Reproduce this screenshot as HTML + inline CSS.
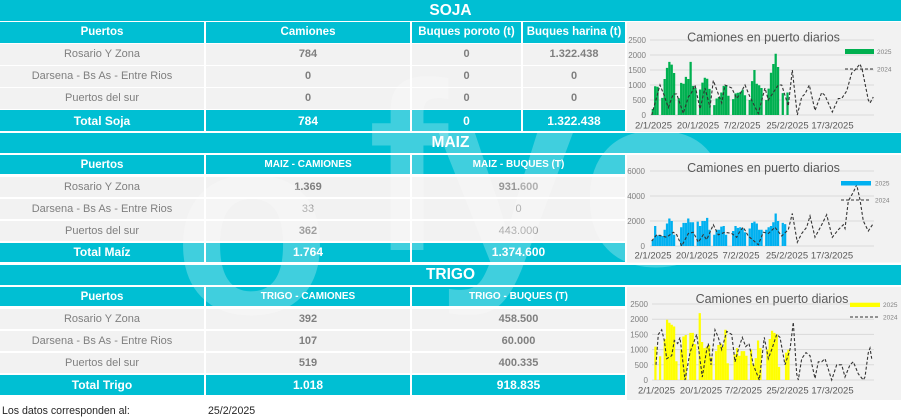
<!DOCTYPE html>
<html><head><meta charset="utf-8">
<style>
body{margin:0;width:901px;height:417px;overflow:hidden;background:#fff;position:relative;font-family:"Liberation Sans",Arial,sans-serif;}
.a{position:absolute;display:flex;align-items:center;justify-content:center;white-space:nowrap;}
.cy{background:#00bfd3;color:#fff;font-weight:bold;}
.h{font-size:11.5px;}
.hu{font-size:10px;}
.t{font-size:12px;}
.g{background:#f2f2f2;color:#7f7f7f;font-size:11px;}
.b{font-weight:bold;}
.l{color:#969696;}
.band{font-size:15.5px;left:0;width:901px;}
svg{position:absolute;left:0;top:0;}
</style></head><body>

<!-- SOJA -->
<div class="a cy band" style="top:0;height:21px;">SOJA</div>
<div class="a cy h" style="left:0;top:22px;width:204px;height:20.7px;">Puertos</div>
<div class="a cy h" style="left:206px;top:22px;width:204px;height:20.7px;">Camiones</div>
<div class="a cy h" style="left:412px;top:22px;width:109px;height:20.7px;">Buques poroto (t)</div>
<div class="a cy h" style="left:523px;top:22px;width:102px;height:20.7px;">Buques harina (t)</div>

<div class="a g" style="left:0;top:44px;width:204px;height:20.7px;">Rosario Y Zona</div>
<div class="a g b" style="left:206px;top:44px;width:204px;height:20.7px;">784</div>
<div class="a g b" style="left:412px;top:44px;width:109px;height:20.7px;">0</div>
<div class="a g b" style="left:523px;top:44px;width:102px;height:20.7px;">1.322.438</div>

<div class="a g" style="left:0;top:66px;width:204px;height:20.7px;">Darsena - Bs As - Entre Rios</div>
<div class="a g b" style="left:206px;top:66px;width:204px;height:20.7px;">0</div>
<div class="a g b" style="left:412px;top:66px;width:109px;height:20.7px;">0</div>
<div class="a g b" style="left:523px;top:66px;width:102px;height:20.7px;">0</div>

<div class="a g" style="left:0;top:88px;width:204px;height:20.7px;">Puertos del sur</div>
<div class="a g b" style="left:206px;top:88px;width:204px;height:20.7px;">0</div>
<div class="a g b" style="left:412px;top:88px;width:109px;height:20.7px;">0</div>
<div class="a g b" style="left:523px;top:88px;width:102px;height:20.7px;">0</div>

<div class="a cy t" style="left:0;top:110px;width:204px;height:21.3px;">Total Soja</div>
<div class="a cy t" style="left:206px;top:110px;width:204px;height:21.3px;">784</div>
<div class="a cy t" style="left:412px;top:110px;width:109px;height:21.3px;">0</div>
<div class="a cy t" style="left:523px;top:110px;width:102px;height:21.3px;">1.322.438</div>

<!-- MAIZ -->
<div class="a cy band" style="top:132.7px;height:20px;">MAIZ</div>
<div class="a cy h" style="left:0;top:155px;width:204px;height:19.3px;">Puertos</div>
<div class="a cy hu" style="left:206px;top:155px;width:204px;height:19.3px;">MAIZ - CAMIONES</div>
<div class="a cy hu" style="left:412px;top:155px;width:213px;height:19.3px;">MAIZ - BUQUES (T)</div>

<div class="a g" style="left:0;top:176.7px;width:204px;height:20px;">Rosario Y Zona</div>
<div class="a g b" style="left:206px;top:176.7px;width:204px;height:20px;">1.369</div>
<div class="a g b l" style="left:412px;top:176.7px;width:213px;height:20px;">931.600</div>

<div class="a g" style="left:0;top:198.7px;width:204px;height:20px;">Darsena - Bs As - Entre Rios</div>
<div class="a g l" style="left:206px;top:198.7px;width:204px;height:20px;">33</div>
<div class="a g l" style="left:412px;top:198.7px;width:213px;height:20px;">0</div>

<div class="a g" style="left:0;top:220.7px;width:204px;height:20px;">Puertos del sur</div>
<div class="a g b" style="left:206px;top:220.7px;width:204px;height:20px;">362</div>
<div class="a g l" style="left:412px;top:220.7px;width:213px;height:20px;">443.000</div>

<div class="a cy t" style="left:0;top:242.7px;width:204px;height:19.5px;">Total Maíz</div>
<div class="a cy t" style="left:206px;top:242.7px;width:204px;height:19.5px;">1.764</div>
<div class="a cy t" style="left:412px;top:242.7px;width:213px;height:19.5px;">1.374.600</div>

<!-- TRIGO -->
<div class="a cy band" style="top:264.5px;height:20.2px;">TRIGO</div>
<div class="a cy h" style="left:0;top:287px;width:204px;height:19.3px;">Puertos</div>
<div class="a cy hu" style="left:206px;top:287px;width:204px;height:19.3px;">TRIGO - CAMIONES</div>
<div class="a cy hu" style="left:412px;top:287px;width:213px;height:19.3px;">TRIGO - BUQUES (T)</div>

<div class="a g" style="left:0;top:308.7px;width:204px;height:20px;">Rosario Y Zona</div>
<div class="a g b" style="left:206px;top:308.7px;width:204px;height:20px;">392</div>
<div class="a g b" style="left:412px;top:308.7px;width:213px;height:20px;">458.500</div>

<div class="a g" style="left:0;top:330.7px;width:204px;height:20px;">Darsena - Bs As - Entre Rios</div>
<div class="a g b" style="left:206px;top:330.7px;width:204px;height:20px;">107</div>
<div class="a g b" style="left:412px;top:330.7px;width:213px;height:20px;">60.000</div>

<div class="a g" style="left:0;top:352.7px;width:204px;height:20px;">Puertos del sur</div>
<div class="a g b" style="left:206px;top:352.7px;width:204px;height:20px;">519</div>
<div class="a g b" style="left:412px;top:352.7px;width:213px;height:20px;">400.335</div>

<div class="a cy t" style="left:0;top:375.3px;width:204px;height:20px;">Total Trigo</div>
<div class="a cy t" style="left:206px;top:375.3px;width:204px;height:20px;">1.018</div>
<div class="a cy t" style="left:412px;top:375.3px;width:213px;height:20px;">918.835</div>

<div style="position:absolute;left:2px;top:405px;font-size:10.6px;color:#262626;">Los datos corresponden al:</div>
<div style="position:absolute;left:208px;top:405px;font-size:10.6px;color:#262626;">25/2/2025</div>

<!-- watermark -->
<svg width="901" height="417" viewBox="0 0 901 417">
<g fill="#fff" fill-opacity="0.25" font-family="Liberation Sans, Arial, sans-serif" font-weight="bold">
<text x="173" y="313" font-size="257">o</text>
<text x="368" y="250" font-size="240">f</text>
<text x="436" y="263" font-size="250">y</text>
<text x="580" y="265" font-size="250">o</text>
</g>
</svg>

<!-- charts -->
<svg width="901" height="417" viewBox="0 0 901 417" font-family="Liberation Sans, Arial, sans-serif">
<!-- Chart 1 SOJA -->
<rect x="627" y="22" width="274" height="110" fill="#f2f2f2"/>
<g stroke="#d9d9d9" stroke-width="1">
<line x1="650" x2="874" y1="40" y2="40"/><line x1="650" x2="874" y1="55" y2="55"/><line x1="650" x2="874" y1="70" y2="70"/><line x1="650" x2="874" y1="85" y2="85"/><line x1="650" x2="874" y1="100" y2="100"/><line x1="650" x2="874" y1="115" y2="115"/>
</g>
<g font-size="8" fill="#7f7f7f" text-anchor="end">
<text x="646" y="43">2500</text><text x="646" y="58">2000</text><text x="646" y="73">1500</text><text x="646" y="88">1000</text><text x="646" y="103">500</text><text x="646" y="118">0</text>
</g>
<path fill="#00b050" d="M651.7 115v-6h2.25v6m.113 0v-28.8h2.25v28.8m.113 0v-28.2h2.25v28.2m.113 0m2.363 0v-17.1h2.25v17.1m.113 0v-36h2.25v36m.113 0v-47.1h2.25v47.1m.113 0v-53.1h2.25v53.1m.113 0v-50.4h2.25v50.4m.113 0v-42h2.25v42m.113 0m2.363 0v-16.8h2.25v16.8m.113 0v-32.1h2.25v32.1m.113 0v-31.2h2.25v31.2m.113 0v-38.1h2.25v38.1m.113 0v-36h2.25v36m.113 0v-53.1h2.25v53.1m.113 0v-29.1h2.25v29.1m.113 0v-27h2.25v27m.113 0m2.363 0v-25.5h2.25v25.5m.113 0v-32.4h2.25v32.4m.113 0v-37.2h2.25v37.2m.113 0v-36.3h2.25v36.3m.113 0v-26.1h2.25v26.1m.113 0m2.363 0v-9.9h2.25v9.9m.113 0v-16.5h2.25v16.5m.113 0v-18h2.25v18m.113 0v-22.5h2.25v22.5m.113 0v-29.1h2.25v29.1m.113 0v-30h2.25v30m.113 0v-19.2h2.25v19.2m.113 0m2.363 0v-15.9h2.25v15.9m.113 0v-21.6h2.25v21.6m.113 0v-22.2h2.25v22.2m.113 0v-22.8h2.25v22.8m.113 0v-25.2h2.25v25.2m.113 0v-19.8h2.25v19.8m.113 0m2.363 0v-15h2.25v15m.113 0v-33.9h2.25v33.9m.113 0v-45h2.25v45m.113 0v-31.2h2.25v31.2m.113 0v-29.7h2.25v29.7m.113 0v-27h2.25v27m.113 0m2.363 0v-15h2.25v15m.113 0v-26.4h2.25v26.4m.113 0v-42.3h2.25v42.3m.113 0v-51h2.25v51m.113 0v-61.2h2.25v61.2m.113 0v-48h2.25v48m.113 0m2.363 0v-21.9h2.25v21.9m.113 0m2.363 0v-22.5h2.25v22.5z"/>
<polyline fill="none" stroke="#333" stroke-width="1.1" stroke-dasharray="3,2" points="651.7,115 660,85 664,95 668.3,107.5 673.3,94 676.7,94 683.3,113.5 688.3,97 691.7,92.5 695,85 700,109 705,88 710,107.5 713.3,80.5 718.3,94 721.7,103 725,85 731.7,88 736.7,98.5 740,94 745,85 750,97 758.3,113.5 765,88 768.3,100 778.3,85 781.7,85 788.3,106 792.3,70 797.3,115 801.7,97 805,94 809.3,85 815,110.5 821.7,92.5 825,95.5 832.3,112 838.3,98.5 841.7,98.5 846.7,91 851.7,73 855,70 860,64 862.3,70 868.3,100 870,103 873.3,97"/>
<text x="763.5" y="41.5" font-size="12.5" fill="#595959" text-anchor="middle">Camiones en puerto diarios</text>
<rect x="845" y="49" width="29" height="5" fill="#00b050"/>
<text x="877" y="54" font-size="6.5" fill="#7f7f7f">2025</text>
<line x1="845" x2="874" y1="69" y2="69" stroke="#333" stroke-width="1.1" stroke-dasharray="3,2"/>
<text x="877" y="71.5" font-size="6.5" fill="#7f7f7f">2024</text>
<g font-size="9.5" fill="#595959" text-anchor="middle">
<text x="653.5" y="128.5">2/1/2025</text><text x="698" y="128.5">20/1/2025</text><text x="742" y="128.5">7/2/2025</text><text x="787.5" y="128.5">25/2/2025</text><text x="832.5" y="128.5">17/3/2025</text>
</g>

<!-- Chart 2 MAIZ -->
<rect x="627" y="155" width="274" height="107.5" fill="#f2f2f2"/>
<g stroke="#d9d9d9" stroke-width="1">
<line x1="650" x2="874" y1="171" y2="171"/><line x1="650" x2="874" y1="196" y2="196"/><line x1="650" x2="874" y1="221" y2="221"/><line x1="650" x2="874" y1="246" y2="246"/>
</g>
<g font-size="8" fill="#7f7f7f" text-anchor="end">
<text x="645" y="174">6000</text><text x="645" y="199">4000</text><text x="645" y="224">2000</text><text x="645" y="249">0</text>
</g>
<path fill="#00b0f0" d="M651.7 246v-6.25h2.25v6.25m.113 0v-20h2.25v20m.113 0v-10.6h2.25v10.6m.113 0v-11.25h2.25v11.25m.113 0v-10h2.25v10m.113 0v-16.25h2.25v16.25m.113 0v-22.5h2.25v22.5m.113 0v-27.5h2.25v27.5m.113 0v-25h2.25v25m.113 0v-11.25h2.25v11.25m.113 0m2.363 0m2.363 0v-18.75h2.25v18.75m.113 0v-23.1h2.25v23.1m.113 0v-23.1h2.25v23.1m.113 0v-27.5h2.25v27.5m.113 0v-23.75h2.25v23.75m.113 0v-23.75h2.25v23.75m.113 0m2.363 0v-24.4h2.25v24.4m.113 0v-20h2.25v20m.113 0v-25h2.25v25m.113 0v-25h2.25v25m.113 0v-28.1h2.25v28.1m.113 0v-16.25h2.25v16.25m.113 0m2.363 0v-11.25h2.25v11.25m.113 0v-16.25h2.25v16.25m.113 0v-16.25h2.25v16.25m.113 0v-19.4h2.25v19.4m.113 0v-20h2.25v20m.113 0v-11.25h2.25v11.25m.113 0m2.363 0m2.363 0v-15h2.25v15m.113 0v-20h2.25v20m.113 0v-18.1h2.25v18.1m.113 0v-18.75h2.25v18.75m.113 0v-17.5h2.25v17.5m.113 0v-13.75h2.25v13.75m.113 0m2.363 0v-17.5h2.25v17.5m.113 0v-23.1h2.25v23.1m.113 0v-24.4h2.25v24.4m.113 0v-22.5h2.25v22.5m.113 0v-16.25h2.25v16.25m.113 0v-16.25h2.25v16.25m.113 0m2.363 0v-16.25h2.25v16.25m.113 0v-18.75h2.25v18.75m.113 0v-20h2.25v20m.113 0v-23.75h2.25v23.75m.113 0v-32.5h2.25v32.5m.113 0v-25h2.25v25m.113 0m2.363 0v-23.1h2.25v23.1m.113 0v-21.9h2.25v21.9z"/>
<polyline fill="none" stroke="#333" stroke-width="1.1" stroke-dasharray="3,2" points="651.7,241 656.7,234.75 661.7,236 666.7,237.25 673.3,232.25 676.7,234.75 681.7,246 688.3,233.5 693.3,232.25 698.3,242.25 703.3,234.75 706.7,239.75 713.3,224.75 718.3,234.75 725,232.25 731.7,233.5 736.7,237.25 740,231 743.3,227.25 748.3,236 758.3,244.75 763.3,232.25 768.3,233.5 775,227.25 781.7,236 788.3,229.75 792.3,213.5 797.3,242.25 801.7,233.5 806.7,227.25 810,216 815,237.25 821.7,224.75 826.7,214.75 832.3,237.25 838.3,229.75 843.3,224.75 845,228.5 848.3,201 853.3,192.25 856.7,184.75 860,199.75 863.3,221 868.3,231 873.3,223.5"/>
<text x="763.5" y="172" font-size="12.5" fill="#595959" text-anchor="middle">Camiones en puerto diarios</text>
<rect x="841" y="181" width="30" height="4.5" fill="#00b0f0"/>
<text x="875" y="185.5" font-size="6.5" fill="#7f7f7f">2025</text>
<line x1="841" x2="871" y1="200" y2="200" stroke="#333" stroke-width="1.1" stroke-dasharray="3,2"/>
<text x="875" y="202.5" font-size="6.5" fill="#7f7f7f">2024</text>
<g font-size="9.5" fill="#595959" text-anchor="middle">
<text x="653" y="258.5">2/1/2025</text><text x="697" y="258.5">20/1/2025</text><text x="741" y="258.5">7/2/2025</text><text x="787" y="258.5">25/2/2025</text><text x="832" y="258.5">17/3/2025</text>
</g>

<!-- Chart 3 TRIGO -->
<rect x="627" y="287" width="274" height="113" fill="#f2f2f2"/>
<g stroke="#d9d9d9" stroke-width="1">
<line x1="652" x2="874" y1="304" y2="304"/><line x1="652" x2="874" y1="319.2" y2="319.2"/><line x1="652" x2="874" y1="334.4" y2="334.4"/><line x1="652" x2="874" y1="349.6" y2="349.6"/><line x1="652" x2="874" y1="364.8" y2="364.8"/><line x1="652" x2="874" y1="380" y2="380"/>
</g>
<g font-size="8" fill="#7f7f7f" text-anchor="end">
<text x="648" y="307">2500</text><text x="648" y="322">2000</text><text x="648" y="337.4">1500</text><text x="648" y="352.6">1000</text><text x="648" y="367.8">500</text><text x="648" y="383">0</text>
</g>
<path fill="#ffff00" d="M654.3 380v-33.4h2.25v33.4m.083 0m2.333 0v-23.7h2.25v23.7m.083 0m2.333 0v-41h2.25v41m.083 0v-60.2h2.25v60.2m.083 0v-57.2h2.25v57.2m.083 0v-55.3h2.25v55.3m.083 0v-53.5h2.25v53.5m.083 0v-18.8h2.25v18.8m.083 0m2.333 0v-30.4h2.25v30.4m.083 0v-43.5h2.25v43.5m.083 0v-45h2.25v45m.083 0m2.333 0v-47.1h2.25v47.1m.083 0v-47.1h2.25v47.1m.083 0v-35.9h2.25v35.9m.083 0m2.333 0v-66.9h2.25v66.9m.083 0v-38h2.25v38m.083 0v-31.9h2.25v31.9m.083 0v-33.4h2.25v33.4m.083 0v-35h2.25v35m.083 0v-22.8h2.25v22.8m.083 0m2.333 0v-28.9h2.25v28.9m.083 0v-35h2.25v35m.083 0v-36.5h2.25v36.5m.083 0v-33.4h2.25v33.4m.083 0v-50.2h2.25v50.2m.083 0v-16.7h2.25v16.7m.083 0m2.333 0m2.333 0v-25.8h2.25v25.8m.083 0v-31.9h2.25v31.9m.083 0v-24.3h2.25v24.3m.083 0v-28.9h2.25v28.9m.083 0v-28.9h2.25v28.9m.083 0v-24.3h2.25v24.3m.083 0m2.333 0v-30.4h2.25v30.4m.083 0v-15.2h2.25v15.2m.083 0v-21.9h2.25v21.9m.083 0v-39.5h2.25v39.5m.083 0v-31.9h2.25v31.9m.083 0m2.333 0m2.333 0v-30.4h2.25v30.4m.083 0v-41h2.25v41m.083 0v-49.2h2.25v49.2m.083 0v-47.1h2.25v47.1m.083 0v-45.6h2.25v45.6m.083 0v-13.1h2.25v13.1m.083 0m2.333 0m2.333 0v-27.4h2.25v27.4m.083 0v-30.4h2.25v30.4z"/>
<polyline fill="none" stroke="#333" stroke-width="1.1" stroke-dasharray="3,2" points="656,364.8 658.3,334.4 661.7,329.8 664.3,340.5 666.7,358.7 671.7,355.7 674.3,340.5 677.7,343.5 680,337.4 685,380 690,352.6 693.3,343.5 696.7,334.4 702.3,377 706.7,349.6 708.3,343.5 711,364.8 715,329.8 718.3,337.4 721.7,349.6 726.7,331.4 731.7,334.4 735,361.8 738.3,349.6 742.3,337.4 745.7,346.6 749,343.5 753.3,364.8 759.3,380 764.3,337.4 768.3,358.7 771.7,349.6 776.7,334.4 780,337.4 785,364.8 790,349.6 793.3,322.2 796.7,373.9 798.3,380 801.7,358.7 806,352.6 810,355.7 815,378.5 818.3,361.8 821.7,361.8 825,358.7 831.7,380 836.7,364.8 841.7,364.8 845,377 850,364.8 853.3,361.8 858.3,373.9 863.3,380 865,377 868.3,352.6 870,348.1 871.7,358.7"/>
<text x="772" y="303" font-size="12.5" fill="#595959" text-anchor="middle">Camiones en puerto diarios</text>
<rect x="850" y="302.7" width="30" height="4.3" fill="#ffff00"/>
<text x="883" y="307" font-size="6.5" fill="#7f7f7f">2025</text>
<line x1="850" x2="880" y1="317" y2="317" stroke="#333" stroke-width="1.1" stroke-dasharray="3,2"/>
<text x="883" y="319.5" font-size="6.5" fill="#7f7f7f">2024</text>
<g font-size="9.5" fill="#595959" text-anchor="middle">
<text x="656.5" y="393.5">2/1/2025</text><text x="701" y="393.5">20/1/2025</text><text x="743.5" y="393.5">7/2/2025</text><text x="787.5" y="393.5">25/2/2025</text><text x="832.5" y="393.5">17/3/2025</text>
</g>
</svg>
</body></html>
